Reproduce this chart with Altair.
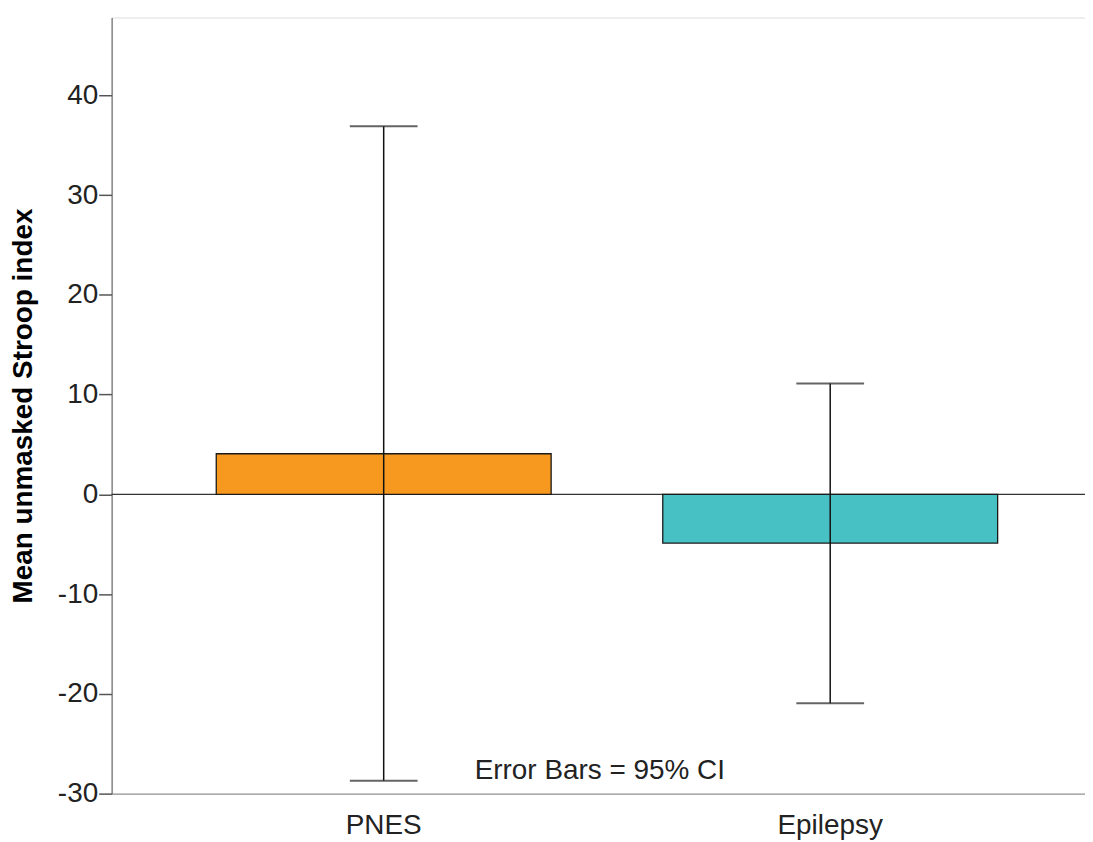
import altair as alt
import pandas as pd

groups = ["PNES", "Epilepsy"]
means = [4.07, -4.88]
ci_low = [-28.7, -20.95]
ci_high = [36.9, 11.12]
colors = ["#F7991E", "#48C1C4"]

df = pd.DataFrame({"group": groups, "mean": means, "lo": ci_low, "hi": ci_high})

FONT = "Liberation Sans"
W, H = 977, 779

x_enc = alt.X(
    "group:N",
    sort=groups,
    scale=alt.Scale(paddingInner=0.25, paddingOuter=0.215, align=0.545),
    axis=alt.Axis(
        title=None, ticks=False, tickSize=0, labelPadding=18, labelFontSize=28,
        labelFont=FONT, labelColor="#222222", domainColor="#9a9a9a", domainWidth=1.5,
        labelAngle=0,
    ),
)

y_scale = alt.Scale(domain=[-30, 47.8], nice=False, zero=False)
y_axis = alt.Axis(
    title="Mean unmasked Stroop index", values=[-30, -20, -10, 0, 10, 20, 30, 40],
    labelExpr="'' + datum.value",
    tickSize=13, labelPadding=1, labelFontSize=28, labelFont=FONT, labelColor="#222222",
    titleFont=FONT, titleFontSize=28, titleFontWeight="bold", titleColor="#000000",
    titlePadding=20, domainColor="#555555", tickColor="#555555", tickWidth=1.5,
    grid=False,
)

base = alt.Chart(df)

bars = base.mark_bar(stroke="#1a1a1a", strokeWidth=1.3).encode(
    x=x_enc,
    y=alt.Y("mean:Q", scale=y_scale, axis=y_axis),
    color=alt.Color("group:N", scale=alt.Scale(domain=groups, range=colors), legend=None),
)

zero = alt.Chart(pd.DataFrame({"z": [0]})).mark_rule(color="#333333", strokeWidth=1.2).encode(
    y=alt.Y("z:Q", scale=y_scale)
)

err = base.mark_rule(color="#111111", strokeWidth=1.5).encode(
    x=x_enc, y=alt.Y("lo:Q", scale=y_scale), y2="hi:Q"
)
cap_hi = base.mark_tick(color="#222222", size=68, thickness=2).encode(
    x=x_enc, y=alt.Y("hi:Q", scale=y_scale)
)
cap_lo = base.mark_tick(color="#222222", size=68, thickness=2).encode(
    x=x_enc, y=alt.Y("lo:Q", scale=y_scale)
)

note = alt.Chart(pd.DataFrame({"t": ["Error Bars = 95% CI"]})).mark_text(
    font=FONT, fontSize=28, color="#222222", align="center", baseline="alphabetic"
).encode(text="t:N", x=alt.value(490), y=alt.value(764))

chart = alt.layer(zero, bars, err, cap_hi, cap_lo, note).properties(
    width=W, height=H,
    autosize=alt.AutoSizeParams(type="none"),
    padding={"left": 104, "top": 8, "right": 0, "bottom": 45},
).configure_view(stroke=None).configure(background="white")

chart.save("out.html", embed_options={"renderer": "svg", "actions": False})
